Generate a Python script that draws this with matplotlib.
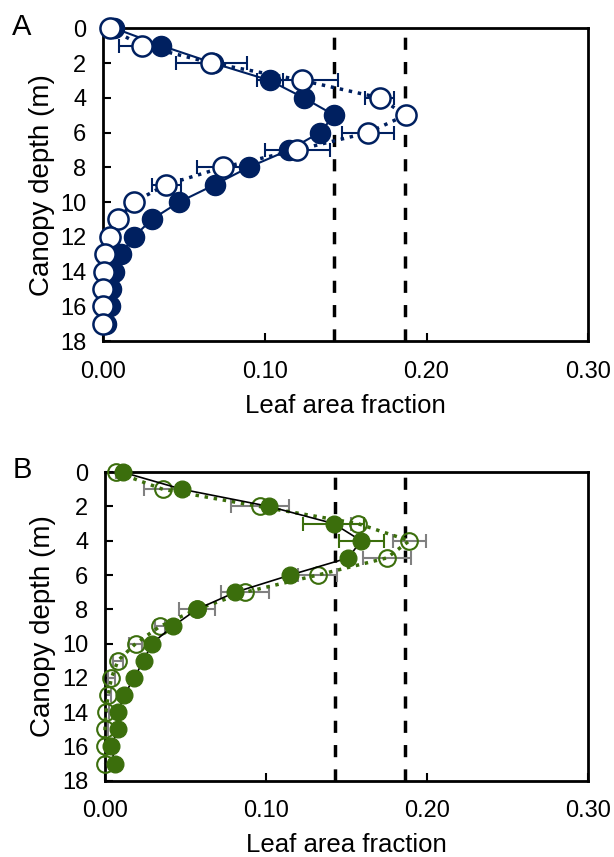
import matplotlib
matplotlib.use("Agg")
import matplotlib.pyplot as plt
import numpy as np

plt.rcParams['font.family'] = ['Liberation Sans', 'DejaVu Sans']

depth = list(range(18))

# Panel A (navy)
a_filled = [0.007, 0.036, 0.068, 0.103, 0.124, 0.143, 0.134, 0.115, 0.090, 0.069,
            0.047, 0.030, 0.019, 0.011, 0.007, 0.005, 0.004, 0.002]
a_filled_err = [0.0, 0.0, 0.0, 0.008, 0.0, 0.0, 0.0, 0.0, 0.0, 0.0,
                0.0, 0.0, 0.0, 0.0, 0.0, 0.0, 0.0, 0.0]
a_open = [0.004, 0.024, 0.067, 0.123, 0.171, 0.187, 0.164, 0.120, 0.074, 0.039,
          0.019, 0.009, 0.004, 0.001, 0.0005, 0.0, 0.0, 0.0]
a_open_err = [0.0, 0.014, 0.022, 0.022, 0.009, 0.003, 0.016, 0.020, 0.016, 0.009,
              0.0, 0.0, 0.0, 0.0, 0.0, 0.0, 0.0, 0.0]

# Panel B (green)
b_filled = [0.011, 0.048, 0.102, 0.142, 0.159, 0.151, 0.115, 0.081, 0.057, 0.042,
            0.029, 0.024, 0.018, 0.012, 0.008, 0.008, 0.004, 0.006]
b_filled_err = [0.0, 0.0, 0.0, 0.019, 0.014, 0.0, 0.0, 0.0, 0.0, 0.0,
                0.0, 0.0, 0.0, 0.0, 0.0, 0.0, 0.0, 0.0]
b_open = [0.007, 0.036, 0.096, 0.157, 0.189, 0.175, 0.132, 0.087, 0.057, 0.034,
          0.019, 0.008, 0.004, 0.002, 0.0005, 0.0, 0.0, 0.0]
b_open_err = [0.0, 0.012, 0.018, 0.004, 0.010, 0.015, 0.012, 0.015, 0.011, 0.003,
              0.004, 0.003, 0.002, 0.002, 0.002, 0.002, 0.0, 0.0]

ref_lines = [0.1425, 0.1865]
xticks = [0.0, 0.1, 0.2, 0.3]
xticklabels = ["0.00", "0.10", "0.20", "0.30"]
yticks = list(range(0, 19, 2))

NAVY = "#002060"
GREEN = "#3b6e0c"
GRAY = "#808080"

fig = plt.figure(figsize=(6.14, 8.57), dpi=100)
axA = fig.add_axes([0.168, 0.602, 0.790, 0.365])
axB = fig.add_axes([0.171, 0.089, 0.787, 0.360])


def style(ax):
    ax.set_xlim(0, 0.30)
    ax.set_ylim(18, 0)
    ax.set_xticks(xticks)
    ax.set_xticklabels(xticklabels)
    ax.set_yticks(yticks)
    ax.tick_params(direction='in', length=6, width=1.5, labelsize=17)
    ax.tick_params(axis='y', pad=12)
    ax.tick_params(axis='x', pad=14)
    for s in ax.spines.values():
        s.set_linewidth(2)
        s.set_color('black')
    ax.set_ylabel("Canopy depth (m)", fontsize=20, labelpad=4)
    ax.set_xlabel("Leaf area fraction", fontsize=18.5, labelpad=8)
    for xv in ref_lines:
        ax.axvline(xv, color='black', lw=2.5, ls=(0, (3.5, 3.5)), zorder=1)


# Panel A
style(axA)
axA.errorbar(a_open, depth, xerr=a_open_err, fmt='none', ecolor=NAVY, elinewidth=1.5,
             capsize=5, capthick=1.5, zorder=2)
axA.errorbar(a_filled, depth, xerr=a_filled_err, fmt='none', ecolor=NAVY, elinewidth=1.5,
             capsize=5, capthick=1.5, zorder=2)
axA.plot(a_filled, depth, '-', color=NAVY, lw=1.5, marker='o', ms=14.5,
         mfc=NAVY, mec=NAVY, zorder=3, clip_on=False)
axA.plot(a_open, depth, ':', color=NAVY, lw=2.5, marker='o', ms=14.5,
         mfc='white', mec=NAVY, mew=1.8, zorder=4, clip_on=False)
fig.text(0.02, 0.959, "A", fontsize=21)

# Panel B
style(axB)
axB.errorbar(b_open, depth, xerr=b_open_err, fmt='none', ecolor=GRAY, elinewidth=1.5,
             capsize=5, capthick=1.5, zorder=2)
axB.errorbar(b_filled, depth, xerr=b_filled_err, fmt='none', ecolor=GREEN, elinewidth=1.5,
             capsize=5, capthick=1.5, zorder=2)
axB.plot(b_open, depth, ':', color=GREEN, lw=2.5, marker='o', ms=12,
         mfc='none', mec=GREEN, mew=1.5, zorder=3, clip_on=False)
axB.plot(b_filled, depth, '-', color='black', lw=1.2, marker='o', ms=12,
         mfc=GREEN, mec=GREEN, zorder=4, clip_on=False)
fig.text(0.02, 0.442, "B", fontsize=21)

fig.savefig("out.png", dpi=100)
